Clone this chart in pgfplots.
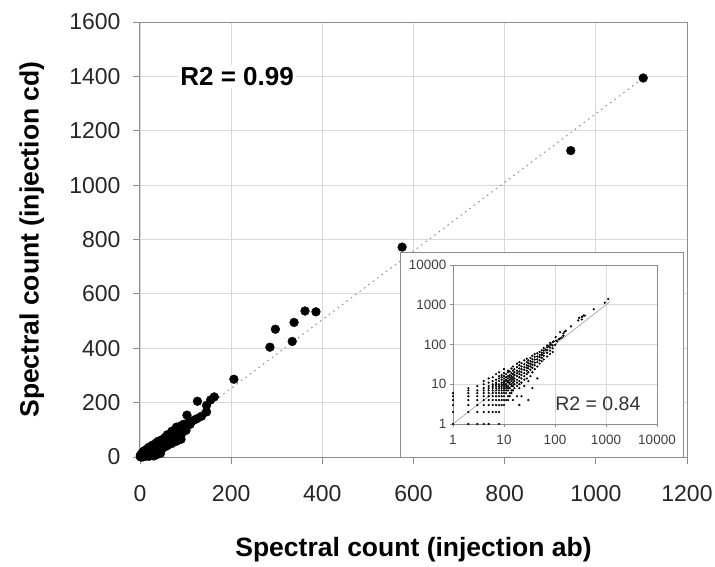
\documentclass[border=0pt]{standalone}
\usepackage{pgfplots}
\pgfplotsset{compat=1.18}
\usepackage{fontspec}
\setmainfont{Liberation Sans}
\pgfplotstableread[row sep=\\]{
x y\\
1 1\\ 1 2\\ 1 3\\ 1 4\\ 1 5\\ 1 6\\
2 1\\ 2 2\\ 2 3\\ 2 4\\ 2 5\\ 2 6\\ 2 7\\ 2 8\\
3 1\\ 3 2\\ 3 3\\ 3 4\\ 3 5\\ 3 6\\ 3 7\\ 3 9\\
4 1\\ 4 2\\ 4 3\\ 4 4\\ 4 5\\ 4 6\\ 4 7\\ 4 8\\ 4 10\\ 4 12\\
5 1\\ 5 2\\ 5 3\\ 5 4\\ 5 5\\ 5 6\\ 5 7\\ 5 8\\ 5 9\\ 5 11\\ 5 14\\
6 2\\ 6 3\\ 6 4\\ 6 5\\ 6 6\\ 6 7\\ 6 8\\ 6 9\\ 6 10\\ 6 12\\ 6 15\\
7 2\\ 7 3\\ 7 4\\ 7 5\\ 7 6\\ 7 7\\ 7 8\\ 7 9\\ 7 10\\ 7 11\\ 7 13\\ 7 18\\
8 1\\ 8 2\\ 8 3\\ 8 4\\ 8 5\\ 8 6\\ 8 7\\ 8 8\\ 8 9\\ 8 10\\ 8 12\\ 8 14\\ 8 16\\ 8 20\\
9 3\\ 9 4\\ 9 5\\ 9 6\\ 9 7\\ 9 8\\ 9 9\\ 9 10\\ 9 11\\ 9 13\\ 9 15\\ 9 17\\
10 3\\ 10 4\\ 10 5\\ 10 6\\ 10 7\\ 10 8\\ 10 9\\ 10 10\\ 10 11\\ 10 12\\ 10 14\\ 10 16\\ 10 19\\ 10 24\\
11 4\\ 11 6\\ 11 7\\ 11 8\\ 11 9\\ 11 10\\ 11 12\\ 11 13\\ 11 15\\ 11 18\\
12 4\\ 12 5\\ 12 7\\ 12 8\\ 12 9\\ 12 11\\ 12 12\\ 12 14\\ 12 16\\ 12 20\\ 12 22\\
13 5\\ 13 6\\ 13 8\\ 13 10\\ 13 11\\ 13 13\\ 13 15\\ 13 17\\ 13 21\\
14 6\\ 14 7\\ 14 9\\ 14 10\\ 14 12\\ 14 14\\ 14 16\\ 14 19\\ 14 25\\
15 4\\ 15 7\\ 15 9\\ 15 11\\ 15 13\\ 15 15\\ 15 18\\ 15 22\\ 15 28\\
16 8\\ 16 10\\ 16 12\\ 16 14\\ 16 17\\ 16 20\\ 16 24\\
18 5\\ 18 9\\ 18 11\\ 18 13\\ 18 16\\ 18 19\\ 18 22\\ 18 27\\ 18 33\\
20 3\\ 20 8\\ 20 10\\ 20 12\\ 20 15\\ 20 18\\ 20 21\\ 20 25\\ 20 30\\ 20 36\\
22 5\\ 22 11\\ 22 14\\ 22 17\\ 22 20\\ 22 24\\ 22 28\\ 22 34\\
25 9\\ 25 13\\ 25 16\\ 25 19\\ 25 23\\ 25 27\\ 25 32\\ 25 40\\
28 14\\ 28 18\\ 28 22\\ 28 26\\ 28 30\\ 28 36\\ 28 44\\
30 4\\ 30 12\\ 30 20\\ 30 25\\ 30 29\\ 30 34\\ 30 40\\
33 16\\ 33 23\\ 33 28\\ 33 33\\ 33 38\\ 33 46\\
36 8\\ 36 20\\ 36 26\\ 36 31\\ 36 37\\ 36 43\\ 36 52\\
40 24\\ 40 30\\ 40 35\\ 40 42\\ 40 49\\ 40 58\\
45 14\\ 45 28\\ 45 36\\ 45 42\\ 45 50\\ 45 60\\
50 33\\ 50 40\\ 50 48\\ 50 55\\ 50 65\\
55 38\\ 55 46\\ 55 54\\ 55 62\\ 55 72\\
60 42\\ 60 52\\ 60 60\\ 60 70\\ 60 82\\
65 75\\ 70 50\\ 70 62\\ 70 72\\ 70 85\\ 70 95\\
75 90\\ 80 58\\ 80 70\\ 80 84\\ 80 98\\ 80 110\\
85 100\\ 90 65\\ 90 80\\ 90 95\\ 90 115\\ 95 120\\
101 98\\ 103 154\\ 105 125\\ 110 120\\ 118 135\\ 125 141\\ 126 205\\ 135 150\\
146 166\\ 146 190\\ 155 210\\ 163 221\\ 206 286\\
285 404\\ 297 470\\ 334 425\\ 338 495\\ 362 537\\ 386 534\\
575 772\\ 945 1127\\ 1104 1394\\
}\data
\begin{document}
\begin{tikzpicture}
\begin{axis}[
  name=main, at={(0pt,0pt)}, anchor=south west,
  scale only axis, width=547pt, height=435pt,
  xmin=0, xmax=1200, ymin=0, ymax=1600,
  xtick distance=200, ytick distance=200,
  tick pos=left,
  grid=major, major grid style={draw=black!15, line width=0.8pt},
  axis line style={draw=black!45, line width=1pt},
  tick align=outside, major tick length=7pt,
  tick style={draw=black!45, line width=0.8pt},
  tick label style={font=\fontsize{23}{26}\selectfont, text=black!85},
  yticklabel style={xshift=-9pt},
  xticklabel style={yshift=-18pt},
  /pgf/number format/assume math mode=true,
  /pgf/number format/1000 sep={},
  xlabel={Spectral count (injection ab)},
  ylabel={Spectral count (injection cd)},
  label style={font=\bfseries\fontsize{26.5}{30}\selectfont},
  xlabel style={at={(axis description cs:0.5,-0.214)}, anchor=center},
  ylabel style={at={(axis description cs:-0.198,0.5)}, anchor=center},
  clip=false,
]
\addplot[black!45, line width=1pt, dash pattern=on 1.5pt off 4pt] coordinates {(0,0) (1104,1394)};
\addplot[only marks, mark=*, mark size=4.4pt, black] table {\data};
\node[fill=white, inner sep=2pt, font=\bfseries\fontsize{26}{29}\selectfont] at (axis cs:213,1400) {R2 = 0.99};
\end{axis}
\draw[black!45, line width=0.8pt, fill=white] (260pt,0pt) rectangle (543pt,205pt);
\begin{axis}[
  at={(313pt,33pt)}, anchor=south west,
  scale only axis, width=204pt, height=159pt,
  xmode=log, ymode=log,
  xmin=1, xmax=10000, ymin=1, ymax=10000,
  xtick={1,10,100,1000,10000}, ytick={1,10,100,1000,10000},
  xticklabels={1,10,100,1000,10000}, yticklabels={1,10,100,1000,10000},
  xminorticks=false, yminorticks=false,
  tick pos=left,
  grid=major, major grid style={draw=black!15, line width=0.6pt},
  axis line style={draw=black!45, line width=0.8pt},
  tick align=outside, major tick length=3pt,
  tick style={draw=black!45, line width=0.6pt},
  tick label style={font=\fontsize{13.5}{15}\selectfont, text=black!75},
  xticklabel style={yshift=-5pt},
  clip=false,
]
\addplot[black!35, line width=0.7pt] coordinates {(1,1) (1200,1200)};
\addplot[only marks, mark=*, mark size=0.9pt, black] table {\data};
\node[font=\fontsize{19.5}{22}\selectfont, text=black!80] at (axis description cs:0.71,0.13) {R2 = 0.84};
\end{axis}
\pgfresetboundingbox
\path[use as bounding box] (-140pt,-109pt) rectangle (575pt,457pt);
\end{tikzpicture}
\end{document}
